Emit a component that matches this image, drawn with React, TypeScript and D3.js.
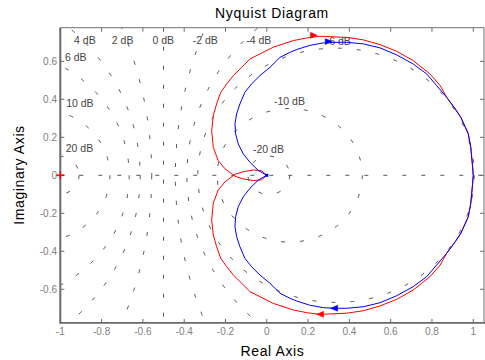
import React from 'react';
import * as d3 from 'd3';

const W = 485;
const H = 360;
const xDomain = [-1, 1.052];
const yDomain = [-0.777, 0.777];

const xTicks = [-1, -0.8, -0.6, -0.4, -0.2, 0, 0.2, 0.4, 0.6, 0.8, 1];
const xTickLabels = ['-1', '-0.8', '-0.6', '-0.4', '-0.2', '0', '0.2', '0.4', '0.6', '0.8', '1'];
const yTicks = [-0.6, -0.4, -0.2, 0, 0.2, 0.4, 0.6];
const yTickLabels = ['-0.6', '-0.4', '-0.2', '0', '0.2', '0.4', '0.6'];

// constant closed-loop magnitude circles (dB)
const gridDb = [-20, -10, -6, -4, -2, 0, 2, 4, 6, 10, 20];
const gridLabels = ['4 dB', '2 dB', '0 dB', '-2 dB', '-4 dB', '-6 dB', '6 dB', '10 dB', '20 dB', '-10 dB', '-20 dB'];
const gridLabelRe = [-0.881, -0.698, -0.501, -0.298, -0.039, 0.346, -0.925, -0.905, -0.907, 0.110, 0.008];
const gridLabelIm = [0.711, 0.711, 0.711, 0.711, 0.711, 0.703, 0.621, 0.379, 0.142, 0.391, 0.138];

// positive-frequency branch (negative-frequency branch is its mirror)
const blueRe = [1.0, 0.997, 0.988, 0.976, 0.940, 0.913, 0.871, 0.823, 0.774, 0.709, 0.629, 0.548, 0.467, 0.387, 0.330, 0.274, 0.209, 0.145, 0.112, 0.064, 0.015, -0.033, -0.073, -0.106, -0.130, -0.146, -0.154, -0.151, -0.138, -0.114, -0.081, -0.041, 0];
const blueIm = [0, -0.042, -0.147, -0.218, -0.305, -0.349, -0.411, -0.472, -0.534, -0.586, -0.634, -0.671, -0.692, -0.700, -0.700, -0.697, -0.684, -0.662, -0.647, -0.621, -0.568, -0.525, -0.482, -0.437, -0.376, -0.323, -0.271, -0.218, -0.165, -0.113, -0.068, -0.025, 0];

const redRe = [1.0, 0.997, 0.988, 0.976, 0.940, 0.913, 0.871, 0.840, 0.790, 0.709, 0.629, 0.548, 0.467, 0.387, 0.258, 0.193, 0.128, 0.064, 0.031, -0.033, -0.081, -0.122, -0.162, -0.194, -0.223, -0.243, -0.259, -0.267, -0.259, -0.235, -0.202, -0.154, -0.114, -0.065, -0.025, 0];
const redIm = [0, -0.042, -0.147, -0.218, -0.305, -0.349, -0.411, -0.472, -0.534, -0.604, -0.653, -0.688, -0.713, -0.726, -0.732, -0.723, -0.709, -0.686, -0.674, -0.639, -0.613, -0.568, -0.525, -0.481, -0.437, -0.376, -0.314, -0.235, -0.147, -0.077, -0.034, 0.005, 0.019, 0.028, 0.024, 0];

// direction arrows (center position, +1 = pointing right, -1 = left)
const redArrowRe = [0.228, 0.258];
const redArrowIm = [0.737, -0.732];
const blueArrowRe = [0.300, 0.326];
const blueArrowIm = [0.704, -0.700];
const arrowDir = [1, -1];

const FONT = '"Liberation Sans", Arial, Helvetica, sans-serif';

export default function App() {
  const left = 60.3, right = 484, top = 27.7, bottom = 322.9;
  const x = d3.scaleLinear().domain(xDomain).range([left, right]);
  const y = d3.scaleLinear().domain(yDomain).range([bottom, top]);

  const line = d3.line<[number, number]>().x(d => x(d[0])).y(d => y(d[1]));
  const pts = (re: number[], im: number[], s: number) => re.map((r, i) => [r, s * im[i]] as [number, number]);

  const series = [
    { re: redRe, im: redIm, color: '#ff0000', aRe: redArrowRe, aIm: redArrowIm },
    { re: blueRe, im: blueIm, color: '#0000ff', aRe: blueArrowRe, aIm: blueArrowIm },
  ];

  const dash = '4,15';
  const gridColor = '#555';

  const gridShapes = gridDb.map((db, i) => {
    const M = Math.pow(10, db / 20);
    if (Math.abs(M - 1) < 1e-9) {
      return <line key={'g' + i} x1={x(-0.5)} x2={x(-0.5)} y1={y(yDomain[1])} y2={y(yDomain[0])} stroke={gridColor} strokeWidth={1} strokeDasharray={dash} />;
    }
    const c = -M * M / (M * M - 1);
    const r = Math.abs(M / (M * M - 1));
    return <ellipse key={'g' + i} cx={x(c)} cy={y(0)} rx={x(c + r) - x(c)} ry={y(0) - y(r)} fill="none" stroke={gridColor} strokeWidth={1} strokeDasharray={dash} />;
  });

  return (
    <svg width={W} height={H} style={{ position: 'absolute', left: 0, top: 0, background: '#fff' }} fontFamily={FONT}>
      <defs>
        <clipPath id="plotClip">
          <rect x={left} y={top} width={right - left} height={bottom - top} />
        </clipPath>
      </defs>
      <rect x={0} y={0} width={W} height={H} fill="#fff" />
      <g clipPath="url(#plotClip)">
        {gridShapes}
        <line x1={x(xDomain[0])} x2={x(xDomain[1])} y1={y(0)} y2={y(0)} stroke={gridColor} strokeWidth={1} strokeDasharray={dash} />
        {gridLabels.map((t, i) => (
          <text key={'gl' + i} x={x(gridLabelRe[i])} y={y(gridLabelIm[i])} dy="0.35em" textAnchor="middle" fontSize={10.5} fill="#444">{t}</text>
        ))}
        {series.map((s, k) => (
          <g key={'s' + k}>
            <path d={line(pts(s.re, s.im, 1)) || ''} fill="none" stroke={s.color} strokeWidth={1} />
            <path d={line(pts(s.re, s.im, -1)) || ''} fill="none" stroke={s.color} strokeWidth={1} />
            {s.aRe.map((ar, j) => {
              const cx = x(ar), cy = y(s.aIm[j]);
              const d = arrowDir[j];
              const p = `M${cx + d * 3.5},${cy} L${cx - d * 3.5},${cy - 3} L${cx - d * 3.5},${cy + 3} Z`;
              return <path key={'a' + j} d={p} fill={s.color} stroke={s.color} strokeWidth={0.5} />;
            })}
          </g>
        ))}
        <rect x={x(0) - 1.5} y={y(0) - 1.5} width={3} height={3} fill="#0000ff" />
      </g>
      {/* axes box */}
      <line x1={left} x2={right} y1={top} y2={top} stroke="#707070" strokeWidth={1} />
      <line x1={right} x2={right} y1={top} y2={bottom} stroke="#707070" strokeWidth={1} />
      <line x1={left} x2={right + 1} y1={bottom} y2={bottom} stroke="#6a6a6a" strokeWidth={1.6} />
      <line x1={left} x2={left} y1={top} y2={bottom + 0.8} stroke="#6a6a6a" strokeWidth={2} />
      {xTicks.map((t, i) => (
        <g key={'xt' + i}>
          <line x1={x(t)} x2={x(t)} y1={bottom} y2={bottom - 4} stroke="#6a6a6a" strokeWidth={1} />
          <line x1={x(t)} x2={x(t)} y1={top} y2={top + 4} stroke="#6a6a6a" strokeWidth={1} />
          <text x={x(t)} y={334.5} textAnchor="middle" fontSize={10} fill="#808080">{xTickLabels[i]}</text>
        </g>
      ))}
      {yTicks.map((t, i) => (
        <g key={'yt' + i}>
          <line x1={left} x2={left + 4} y1={y(t)} y2={y(t)} stroke="#6a6a6a" strokeWidth={1} />
          <line x1={right} x2={right - 4} y1={y(t)} y2={y(t)} stroke="#6a6a6a" strokeWidth={1} />
          <text x={57} y={y(t)} dy="0.33em" textAnchor="end" fontSize={10} fill="#808080">{yTickLabels[i]}</text>
        </g>
      ))}
      {/* critical point -1+0j */}
      <g stroke="#ff0000" strokeWidth={1.5}>
        <line x1={x(-1) - 4} x2={x(-1) + 4} y1={y(0)} y2={y(0)} />
        <line x1={x(-1)} x2={x(-1)} y1={y(0) - 4} y2={y(0) + 4} />
      </g>
      <text x={272} y={18.3} textAnchor="middle" fontSize={14} letterSpacing={0.7} fill="#000">Nyquist Diagram</text>
      <text x={272.5} y={356} textAnchor="middle" fontSize={14} letterSpacing={0.6} fill="#000">Real Axis</text>
      <text transform="translate(24,175) rotate(-90)" textAnchor="middle" fontSize={14} letterSpacing={0.6} fill="#000">Imaginary Axis</text>
    </svg>
  );
}
